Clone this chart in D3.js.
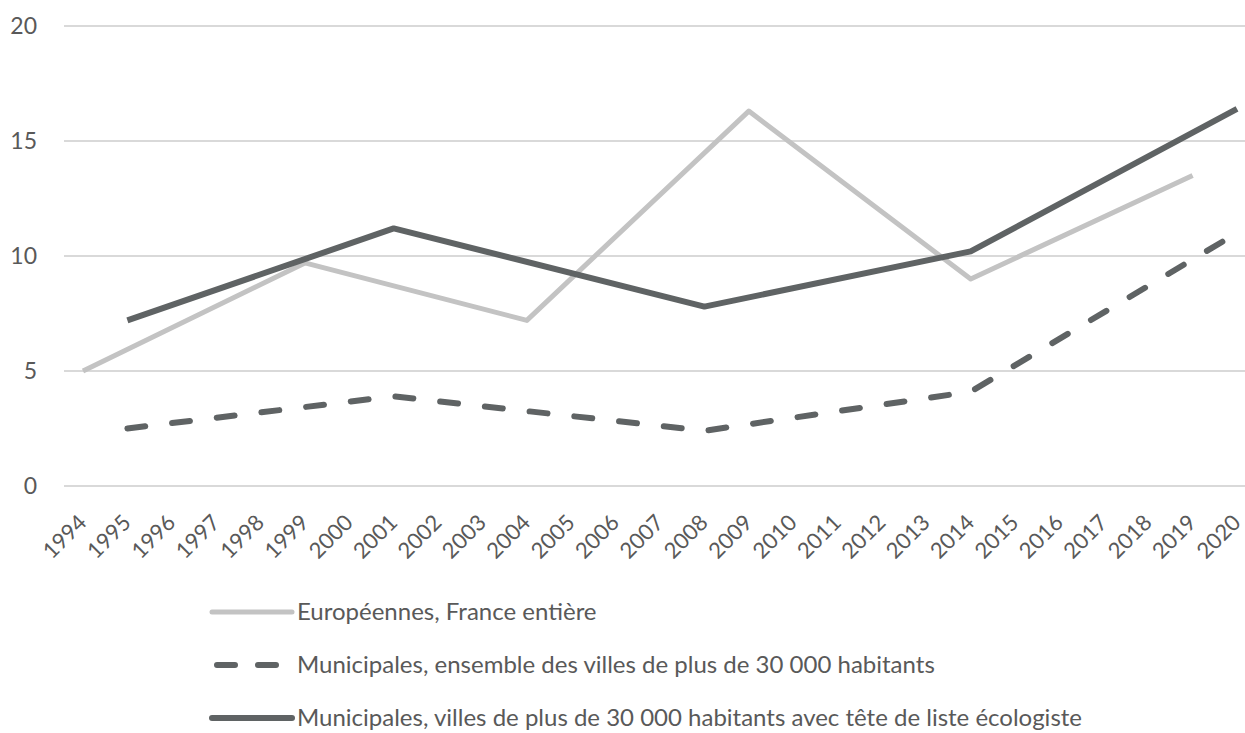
<!DOCTYPE html>
<html>
<head>
<meta charset="utf-8">
<script src="https://cdn.jsdelivr.net/npm/d3@7"></script>
<style>
  body { margin: 0; background: #fff; }
  text { font-family: Lato, "Open Sans", sans-serif; fill: #595959; }
</style>
</head>
<body>
<div id="chart"></div>
<script>
var years = ["1994","1995","1996","1997","1998","1999","2000","2001","2002","2003","2004",
  "2005","2006","2007","2008","2009","2010","2011","2012","2013","2014","2015","2016",
  "2017","2018","2019","2020"];
var yTicks = [0, 5, 10, 15, 20];

var seriesNames = [
  "Européennes, France entière",
  "Municipales, ensemble des villes de plus de 30 000 habitants",
  "Municipales, villes de plus de 30 000 habitants avec tête de liste écologiste"
];

// election years and scores (%)
var europeennes = [["1994", 5.0], ["1999", 9.7], ["2004", 7.2], ["2009", 16.3], ["2014", 9.0], ["2019", 13.5]];
var municipalesEnsemble = [["1995", 2.5], ["2001", 3.9], ["2008", 2.4], ["2014", 4.1], ["2020", 11.0]];
var municipalesEcolo = [["1995", 7.2], ["2001", 11.2], ["2008", 7.8], ["2014", 10.2], ["2020", 16.4]];

var width = 1245, height = 733;
var svg = d3.select("#chart").append("svg")
  .attr("width", width)
  .attr("height", height);

var x = d3.scalePoint().domain(years).range([83, 1237]);
var y = d3.scaleLinear().domain([0, 20]).range([486, 26]);

// gridlines
svg.append("g")
  .selectAll("line")
  .data(yTicks)
  .enter()
  .append("line")
    .attr("x1", 64)
    .attr("x2", width)
    .attr("y1", d => y(d))
    .attr("y2", d => y(d))
    .style("stroke", "#d9d9d9")
    .style("stroke-width", 2);

// y labels
svg.append("g")
  .selectAll("text")
  .data(yTicks)
  .enter()
  .append("text")
    .attr("x", 37)
    .attr("y", d => y(d))
    .attr("dy", "0.35em")
    .attr("text-anchor", "end")
    .style("font-size", "23px")
    .text(d => d);

// x labels
svg.append("g")
  .selectAll("text")
  .data(years)
  .enter()
  .append("text")
    .attr("transform", d => "translate(" + (x(d) + 5) + ",524) rotate(-45)")
    .attr("text-anchor", "end")
    .style("font-size", "22px")
    .text(d => d);

var line = d3.line()
  .x(d => x(d[0]))
  .y(d => y(d[1]));

var styles = [
  { color: "#c3c3c3", width: 5, dash: null },
  { color: "#5f6364", width: 6, dash: "18 27" },
  { color: "#5f6364", width: 6, dash: null }
];
var allSeries = [europeennes, municipalesEnsemble, municipalesEcolo];

svg.append("g")
  .selectAll("path")
  .data(allSeries)
  .enter()
  .append("path")
    .attr("d", line)
    .style("fill", "none")
    .style("stroke", (d, i) => styles[i].color)
    .style("stroke-width", (d, i) => styles[i].width)
    .style("stroke-dasharray", (d, i) => styles[i].dash)
    .style("stroke-linecap", (d, i) => styles[i].dash ? "round" : "butt")
    .style("stroke-linejoin", "round");

// legend
var legend = svg.append("g")
  .selectAll("g")
  .data(seriesNames)
  .enter()
  .append("g")
    .attr("transform", (d, i) => "translate(0," + (612 + i * 53) + ")");

legend.append("line")
  .attr("x1", (d, i) => styles[i].dash ? 217 : 212)
  .attr("x2", 292)
  .style("stroke", (d, i) => styles[i].color)
  .style("stroke-width", (d, i) => styles[i].width)
  .style("stroke-dasharray", (d, i) => styles[i].dash ? "18 23" : null)
  .style("stroke-linecap", "round");

legend.append("text")
  .attr("x", 297)
  .attr("dy", "0.35em")
  .style("font-size", "24px")
  .text(d => d);
</script>
</body>
</html>
